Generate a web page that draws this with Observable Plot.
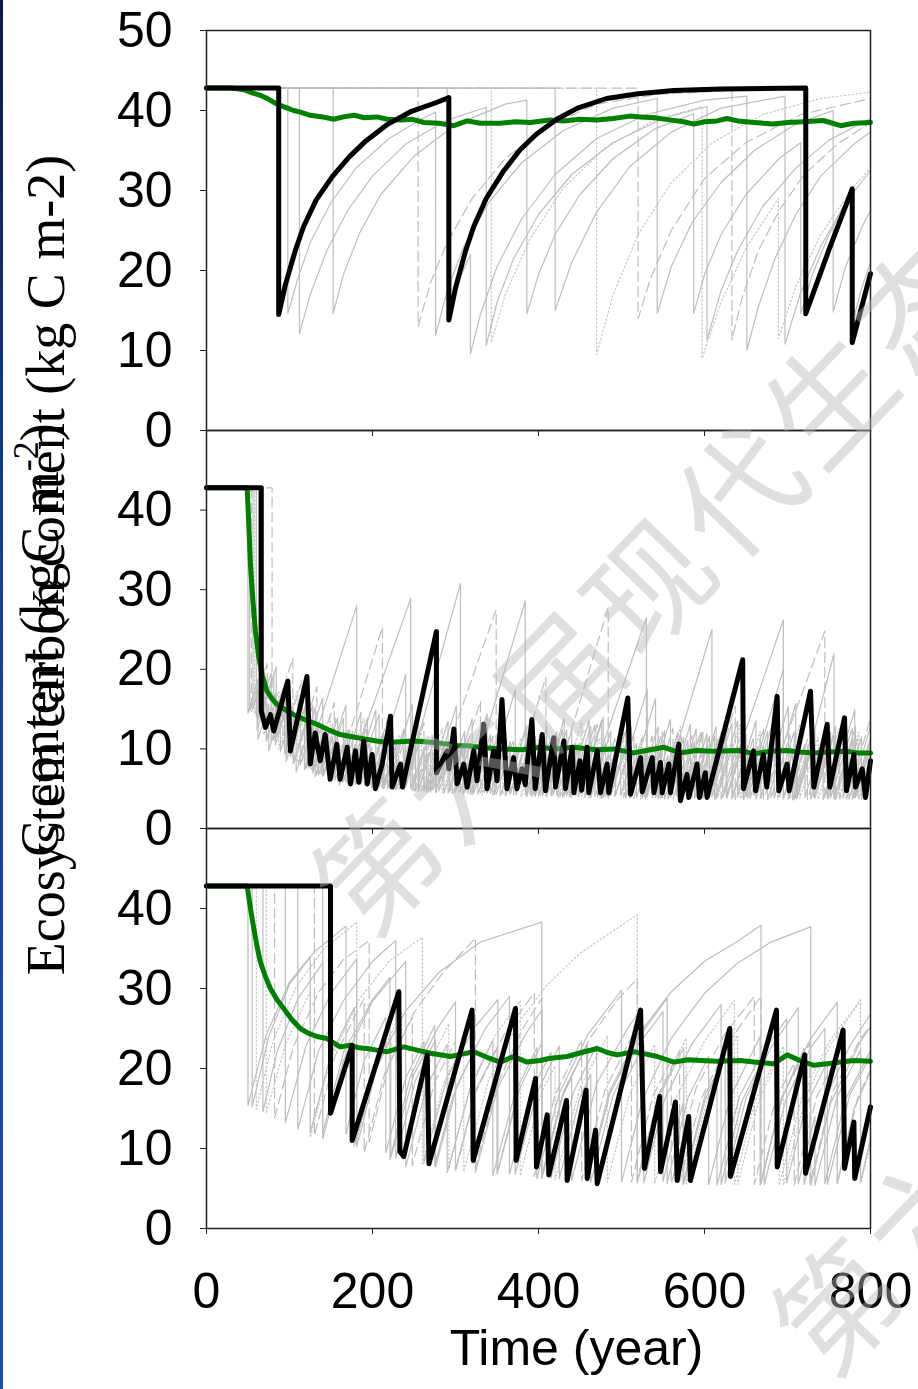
<!DOCTYPE html>
<html>
<head>
<meta charset="utf-8">
<script src="https://cdn.jsdelivr.net/npm/d3@7"></script>
<script src="https://cdn.jsdelivr.net/npm/@observablehq/plot@0.6"></script>
<style>
  html, body { margin: 0; padding: 0; background: #fff; }
  #chart { position: relative; width: 918px; height: 1389px; overflow: hidden; background: #fff; }
  #chart > svg { position: absolute; left: 0; }
  #edge { position: absolute; left: 0; top: 0; width: 3px; height: 1389px;
          background: linear-gradient(#0a1a44, #12409c 40%, #1a4fb2); }
</style>
</head>
<body>
<div id="chart"><div id="edge"></div></div>
<script>
// ---- axis ticks ----
const xTicks = [0, 200, 400, 600, 800];
const yTicksTop = [0, 10, 20, 30, 40, 50];
const yTicksLower = [0, 10, 20, 30, 40];

const xLabel = "Time (year)";
const yLabelA = "Ecosystem carbon content (kg C m-2)";
const yLabelB = "C content (kgC m";
const watermark = "第六届现代生态学讲座";

// ---- panel 1 (flat pairs: year, kg C m-2) ----
const black1 = [0,42.8, 87,42.8, 87,14.5, 95,18.2, 107,22.5, 117,25.5, 132,28.8, 152,31.8, 172,34.2,
  192,36.2, 217,38.2, 247,39.9, 277,41.0, 292,41.6, 292,13.8, 300,17.8, 312,22.4, 322,25.5, 337,29.0,
  357,32.3, 377,35.0, 397,37.0, 422,38.9, 447,40.3, 482,41.5, 520,42.1, 563,42.5, 620,42.7, 722,42.8,
  722,14.6, 750,22.6, 778,30.2, 778,11.0, 800,19.6];
const green1 = [0,42.8, 30,42.8, 45,42.6, 55,42.2, 65,41.9, 75,41.4, 85,40.8, 95,40.4, 105,40.0, 113,39.8,
  125,39.4, 140,39.2, 153,38.9, 165,39.2, 178,39.4, 190,39.1, 205,39.2, 218,38.9, 234,38.8, 248,38.9,
  262,38.5, 280,38.4, 298,38.1, 314,38.7, 330,38.4, 354,38.4, 372,38.6, 390,38.5, 414,38.8, 430,38.7,
  450,38.9, 470,38.8, 490,39.0, 510,39.3, 523,39.2, 540,39.1, 560,38.8, 575,38.6, 587,38.3, 600,38.6,
  615,38.7, 627,39.0, 640,38.7, 660,38.5, 683,38.3, 700,38.5, 720,38.6, 743,38.75, 764,38.1, 780,38.4, 800,38.5];
const runA1 = [0,42.8, 98,42.8, 98,14.6, 110,19, 125,23.5, 150,28.5, 180,32.8, 220,36.5, 260,39, 276,39.8,
  276,11.9, 290,17.5, 310,23, 340,28.5, 380,33.5, 430,37.5, 490,40.3, 543,41.5, 543,14.6, 560,20.5, 585,26,
  620,31, 660,35, 710,38.3, 755,40, 755,14.8, 770,20.5, 790,25.5, 800,27.5];
const runA2 = [0,42.8, 112,42.8, 112,12.1, 125,17, 145,22.5, 170,27.5, 200,31.8, 240,35.8, 290,38.8, 337,40.4,
  337,10.6, 350,16, 370,21.5, 400,27, 440,32, 490,36, 550,39, 603,40.5, 603,11.3, 620,17.5, 640,22.5,
  670,28, 710,32.8, 750,36.3, 800,39];
const runA3 = [0,42.8, 152.6,42.8, 152.6,14.6, 165,19.5, 185,24.8, 210,29.5, 250,34.3, 300,38.2, 360,40.8,
  386,41.3, 386,14.6, 400,19.5, 420,24.5, 450,29.5, 490,34, 540,37.7, 587,39.6, 587,14.6, 600,19.5, 620,24.5,
  650,29.5, 690,34, 716,36, 716,14.6, 730,19.5, 750,24.5, 776,29.3, 776,12.5, 790,18, 800,21];
const runA4 = [0,42.8, 255,42.8, 255,13, 270,18.5, 290,23.5, 320,29, 360,34, 410,38, 470,40.8, 543,42, 633,42.5,
  633,11.3, 645,16.5, 665,22.5, 690,27.5, 720,32, 760,35.8, 800,38.5];
const runA5 = [0,42.8, 290,42.8, 290,14, 305,19, 318,22, 318,9.6, 330,14.5, 350,20.5, 380,26.5, 420,32, 470,36.5,
  530,39.5, 600,41.3, 651,41.8, 651,10, 665,15.5, 685,21.5, 710,27, 740,31.8, 780,35.8, 800,37.3];
const runA6 = [0,42.8, 343,42.8, 343,11, 360,17, 390,24, 430,30.3, 480,35.3, 540,38.8, 597,40.5, 597,9, 620,16,
  650,22.8, 689,29, 689,11.5, 710,18, 740,24.5, 780,30.5, 800,32.8];
const runA7 = [0,42.8, 420,42.8, 420,15, 440,21, 470,27.3, 510,33, 560,37.3, 620,40.3, 697,41.8, 697,10.8,
  715,17, 740,23, 770,28.5, 800,32.5];
const runA8 = [0,42.8, 470,42.8, 470,9.5, 490,17, 520,24.5, 560,31, 610,36, 670,39.5, 740,41.5, 800,42.3];
const runA9 = [0,42.8, 520,42.8, 520,14, 535,19, 560,25, 600,31.5, 650,36, 716,39.5, 800,41.5];

// ---- panel 2 ----
const black2 = [0,42.8, 66,42.8, 66,14.75, 71,12.7, 77,14.3, 81,12.25, 98,18.5, 101,9.75, 121,19.1, 125,8.1,
  131,12, 137,8.5, 143,11.8, 149,6.2, 157,10.6, 161,6.2, 169.5,10.2, 173.5,5.6, 179.5,9.75, 183.5,5.8,
  189.5,11, 193.6,5.6, 199.6,9.3, 203.6,5, 211.7,8.1, 221.7,14.1, 223.7,5.2, 233.7,8.1, 236,5.2, 277,24.75,
  277,7.0, 290,9.75, 292,7.5, 298,12.5, 302,5.6, 310,8.1, 314,5.2, 322,9.75, 326,6, 334,13.1, 338,5,
  346,9.75, 350,6, 356,16.2, 362,5, 370,8.9, 374,5, 380,7.5, 384,5.5, 392,13.7, 396,5, 404.5,11.8,
  408.4,4.75, 418.4,11.4, 420.5,5.2, 430.5,11, 432.5,5, 440.6,10.2, 442.6,4.5, 450,8.5, 452,4.8,
  458.6,10.2, 460.6,4.5, 470.7,9.75, 474.7,4.5, 482.7,8.1, 484.7,4.5, 507.6,16.4, 510.8,4.3, 523,8.9,
  525,4.6, 537,8.9, 539,4.5, 547,8.3, 549,4.5, 557,8.1, 559,4.5, 569,10.6, 571,3.5, 579,6.8, 581,3.9,
  591,8.1, 594,3.9, 601,7.0, 603,3.9, 646,21.2, 647,5.0, 659,9.75, 661.6,4.75, 671,9.3, 675,5.2,
  687.5,16.6, 689.5,4.75, 699.6,8.1, 702,4.75, 727.7,17.25, 731.7,5.2, 747.8,13.1, 751,5.2, 768.7,13.9,
  771,4.75, 780,9.3, 782,5.2, 790,7.5, 794,3.9, 800,8.5];
const green2 = [0,42.8, 49,42.8, 51,38.0, 53,33.1, 56,28.5, 59,24.75, 63,21.5, 67,19.3, 73,17.25, 79,16.3,
  85,15.6, 95,14.9, 105,14.3, 118,13.7, 133,13.1, 147,12.4, 161,11.8, 177,11.5, 193.6,11.2, 205,11.0,
  217.7,10.8, 233,10.9, 250,11.0, 262,10.9, 274,10.8, 290,10.6, 300,10.4, 314,10.4, 330,10.2, 354,10.0,
  380,9.9, 402,10.2, 420,10.0, 442.6,10.2, 470,9.9, 490,10.0, 515,9.5, 530,9.8, 551,10.2, 571,9.5,
  590,9.8, 610,9.7, 643,9.8, 659,9.4, 680,9.7, 699.6,9.8, 715,9.6, 731.7,9.5, 750,9.6, 770,9.7, 785,9.5, 800,9.5];
const runB1 = [0,42.8, 50,42.8, 50,14.5, 62,18.8, 62,11.2, 75,15.6, 75,9.8, 96,17.1, 96,8.4, 108,12.6, 108,7.1,
  131,15.2, 131,6.5, 147,12.1, 147,5.9, 160,10.4, 160,5.4, 186,14.6, 186,5.6, 199,10.2, 199,5.0, 240,19.3,
  240,5.2, 256,10.8, 256,4.9, 270,9.8, 270,4.6, 301,15.4, 301,4.8, 318,10.7, 318,4.3, 335,10.2, 335,4.5,
  372,17.4, 372,4.6, 390,10.9, 390,4.2, 404,9.1, 404,4.4, 431,13.8, 431,4.1, 450,10.7, 450,4.3, 478,14.0,
  478,3.9, 493,9.2, 493,4.2, 531,17.5, 531,4.0, 547,9.6, 547,3.8, 566,10.5, 566,4.1, 590,12.5, 590,3.9,
  612,11.6, 612,3.7, 640,13.5, 640,4.0, 655,9.3, 655,3.8, 690,16.1, 690,3.9, 706,9.5, 706,3.6, 731,12.4,
  731,4.0, 749,10.3, 749,3.7, 781,14.9, 781,3.9, 800,10.5];
const runB2 = [0,42.8, 56,42.8, 56,15.1, 70,20.0, 70,12.6, 83,17.0, 83,10.5, 101,16.6, 101,9.0, 123,16.8, 123,7.6,
  138,12.7, 138,6.8, 152,11.5, 152,6.1, 170,12.3, 170,5.7, 194,13.9, 194,5.3, 213,11.9, 213,5.0, 229,10.5,
  229,4.9, 255,13.8, 255,4.7, 276,11.9, 276,4.5, 293,10.4, 293,4.6, 320,13.8, 320,4.3, 342,11.8, 342,4.4,
  361,10.9, 361,4.2, 386,12.9, 386,4.0, 405,10.8, 405,4.1, 429,12.4, 429,3.9, 448,10.6, 448,4.0, 476,13.6,
  476,3.8, 499,12.0, 499,4.1, 518,10.7, 518,3.9, 544,12.8, 544,3.7, 568,12.1, 568,3.9, 588,10.9, 588,3.8,
  614,12.8, 614,3.7, 634,10.6, 634,3.9, 662,13.5, 662,3.7, 684,11.4, 684,3.8, 708,12.2, 708,3.6, 733,12.4,
  733,3.8, 756,11.7, 756,3.7, 782,12.8, 782,3.9, 800,10.0];
const runB3 = [0,42.8, 52,42.8, 52,14.8, 61,17.6, 61,12.4, 72,15.9, 72,11.0, 89,16.3, 89,9.7, 105,14.8, 105,8.2,
  128,15.5, 128,7.0, 141,11.1, 141,6.6, 165,13.8, 165,5.9, 179,10.5, 179,5.5, 208,14.3, 208,5.2, 225,10.7,
  225,4.9, 252,13.0, 252,4.7, 267,9.5, 267,4.6, 286,10.4, 286,4.4, 311,12.2, 311,4.5, 327,9.4, 327,4.3,
  354,12.6, 354,4.1, 373,10.3, 373,4.2, 396,11.6, 396,4.0, 422,12.2, 422,4.1, 439,9.7, 439,3.9, 468,13.0,
  468,4.0, 484,9.2, 484,3.8, 512,12.8, 512,4.0, 529,9.6, 529,3.7, 559,13.7, 559,3.9, 580,11.1, 580,3.8,
  603,11.9, 603,3.7, 626,11.6, 626,3.9, 647,11.1, 647,3.6, 668,11.0, 668,3.8, 701,15.3, 701,3.7, 721,10.6,
  721,3.9, 743,11.6, 743,3.6, 767,12.1, 767,3.8, 789,11.5, 789,3.7, 800,7.6];
const runB4 = [0,42.8, 79,42.8, 79,13.2, 92,17.6, 92,10.6, 115,18.6, 115,8.5, 129,13.2, 129,7.4, 154,15.8, 154,6.5,
  172,12.4, 172,5.9, 193,12.7, 193,5.4, 220,14.3, 220,5.1, 237,10.7, 237,4.9, 262,13.3, 262,4.7, 277,9.8,
  277,4.6, 296,10.9, 296,4.4, 330,16.0, 330,4.5, 347,10.0, 347,4.3, 365,10.4, 365,4.2, 409,19.0, 409,4.1,
  426,10.0, 426,4.0, 445,10.6, 445,4.1, 471,13.1, 471,3.9, 492,11.3, 492,4.0, 515,11.9, 515,3.8, 537,11.6,
  537,3.9, 562,12.6, 562,3.7, 585,11.7, 585,3.9, 604,10.5, 604,3.8, 637,15.4, 637,3.6, 659,11.5, 659,3.9,
  680,11.1, 680,3.7, 703,11.8, 703,3.8, 724,11.2, 724,3.6, 748,12.0, 748,3.8, 771,11.7, 771,3.7, 800,13.8];
const runB5 = [0,42.8, 58,42.8, 58,14.4, 69,17.0, 69,11.8, 87,17.2, 87,10.0, 110,17.4, 110,8.3, 126,12.9, 126,7.3,
  149,14.3, 149,6.2, 164,10.6, 164,5.8, 190,13.9, 190,5.4, 211,11.7, 211,5.1, 232,11.8, 232,4.8, 259,13.0,
  259,4.7, 284,12.6, 284,4.5, 304,10.7, 304,4.4, 332,13.2, 332,4.2, 357,12.3, 357,4.3, 379,11.4, 379,4.0,
  402,11.9, 402,4.1, 424,11.5, 424,3.9, 452,13.4, 452,4.0, 474,11.4, 474,3.8, 502,13.2, 502,3.9, 523,10.9,
  523,3.7, 545,11.6, 545,3.9, 571,12.8, 571,3.8, 594,11.8, 594,3.7, 616,11.3, 616,3.9, 643,13.2, 643,3.7,
  667,12.2, 667,3.8, 688,11.1, 688,3.6, 715,13.1, 715,3.8, 737,11.5, 737,3.7, 762,12.5, 762,3.9, 786,12.1,
  786,3.7, 800,8.6];
const runB6 = [0,42.8, 63,42.8, 63,13.8, 81,19.4, 81,11.1, 94,15.3, 94,9.4, 120,18.3, 120,7.5, 135,12.7, 135,6.7,
  158,13.9, 158,5.9, 176,12.2, 176,5.6, 204,14.9, 204,5.2, 218,9.9, 218,5.0, 248,15.6, 248,4.8, 265,10.6,
  265,4.6, 291,13.5, 291,4.5, 309,10.6, 309,4.3, 338,14.4, 338,4.4, 360,11.9, 360,4.1, 385,12.8, 385,4.2,
  410,12.7, 410,4.0, 434,12.4, 434,4.1, 461,13.6, 461,3.9, 481,10.8, 481,4.0, 505,12.3, 505,3.8, 541,16.3,
  541,3.9, 556,9.2, 556,3.7, 583,13.1, 583,3.8, 606,11.6, 606,3.9, 633,13.2, 633,3.7, 652,10.4, 652,3.8,
  676,12.2, 676,3.6, 710,15.7, 710,3.8, 728,10.0, 728,3.7, 752,12.1, 752,3.9, 778,12.6, 778,3.7, 800,11.4];
const runB7 = [0,42.8, 60,42.8, 60,14.0, 78,19.5, 78,11.0, 96,16.2, 96,9.2, 118,15.0, 118,7.4, 181,28.0, 181,6.0,
  197,10.8, 197,5.5, 214,10.6, 214,5.1, 238,12.5, 238,4.9, 306,30.8, 306,4.6, 322,9.5, 322,4.4, 345,11.6,
  345,4.2, 366,10.9, 366,4.3, 392,12.9, 392,4.0, 415,11.3, 415,4.2, 440,12.3, 440,4.1, 456,9.3, 456,3.9,
  530,26.5, 530,4.2, 548,9.8, 548,3.9, 609,25.0, 609,4.0, 627,10.4, 627,3.8, 650,11.9, 650,4.0, 695,20.0,
  695,3.7, 712,9.7, 712,3.9, 756,22.0, 756,3.8, 774,10.1, 774,3.7, 800,12.8];
const runB8 = [0,42.8, 66,42.8, 66,14.2, 84,20.3, 84,11.5, 99,16.0, 99,9.6, 113,13.9, 113,8.0, 140,16.4, 140,6.6,
  168,15.5, 168,5.8, 246,28.9, 246,5.0, 262,10.1, 262,4.8, 280,10.3, 280,4.7, 299,10.9, 299,4.5, 315,9.7,
  315,4.4, 384,28.6, 384,4.3, 400,9.6, 400,4.1, 418,10.1, 418,4.3, 437,10.5, 437,4.0, 463,12.8, 463,3.9,
  487,12.2, 487,4.1, 510,11.6, 510,3.8, 528,10.1, 528,3.9, 552,12.3, 552,3.7, 575,11.5, 575,4.0, 598,12.1,
  598,3.8, 622,12.0, 622,3.9, 695,26.2, 695,3.8, 711,9.4, 711,3.7, 732,10.9, 732,3.9, 758,12.8, 758,3.6,
  779,11.2, 779,3.8, 800,11.1];
const runB9 = [0,42.8, 54,42.8, 54,14.6, 73,20.7, 73,11.3, 104,21.4, 104,8.2, 133,17.8, 133,6.8, 155,13.9, 155,6.1,
  212,25.3, 212,5.1, 228,10.4, 228,4.9, 250,11.8, 250,4.7, 272,11.7, 272,4.6, 349,27.5, 349,4.3, 370,11.2,
  370,4.2, 395,12.6, 395,4.0, 416,11.2, 416,4.1, 484,27.8, 484,3.9, 503,10.2, 503,4.0, 525,11.5, 525,3.8,
  549,12.1, 549,3.9, 572,11.9, 572,3.7, 596,12.3, 596,3.8, 620,12.1, 620,3.7, 646,12.7, 646,3.9, 671,12.6,
  671,3.7, 745,24.8, 745,3.8, 763,9.9, 763,3.7, 785,11.3, 785,3.9, 800,9.1];

// ---- panel 3 ----
const black3 = [0,42.8, 149.4,42.8, 149.4,14.4, 175.5,22.9, 175.5,11.0, 231.7,29.6, 233,9.6, 237.7,9.0, 266,21.7,
  268,8.1, 320,27.3, 321.3,8.5, 372.3,27.5, 373,8.5, 396.4,18.75, 397.6,7.7, 410.5,14.2, 412.4,6.7, 433.7,16.0,
  434.5,6.0, 457.4,17.3, 458.7,6.25, 468.7,12.3, 470.7,5.6, 523,27.3, 527.7,7.5, 546,16.5, 547,7.1, 565,15.8,
  567,6.0, 581,14.0, 583,6.0, 630.5,25.0, 631.3,6.5, 686.7,27.3, 687.6,7.7, 720.8,21.7, 721.7,6.9, 767,24.8,
  768.7,7.5, 780,13.3, 781,6.25, 800,15.2];
const green3 = [0,42.8, 49,42.8, 53,40, 57,37.5, 61,35.2, 65,33.3, 71,31.5, 77,30, 85,28.6, 93,27.5, 103,26.1,
  113,25, 123,24.4, 133,24, 145,23.75, 153,23.2, 161,22.7, 173.5,22.9, 183,22.6, 193.6,22.5, 205,22.3,
  217.7,22.1, 227,22.4, 237.7,22.7, 253.8,22.3, 270,21.9, 294,21.5, 308,21.8, 322,22.1, 338,21.4, 354,20.8,
  370,21.5, 386,20.8, 402,21.0, 412.4,21.25, 434.5,21.5, 452,22.0, 470.7,22.5, 483,22.0, 494.8,21.7, 515,22.1,
  530,21.8, 543,21.5, 563,20.8, 580,21.1, 595,21.0, 615,20.9, 643,21.0, 660,20.8, 683.5,20.6, 699.6,21.7,
  715,21.0, 731.7,20.4, 748,20.6, 764,20.8, 780,21.0, 800,20.9];
const runC1 = [0,42.8, 55,42.8, 55,15.2, 75,24.0, 100,30.5, 130,34.6, 168,37.8, 168,11.8, 190,21.0, 216,26.4,
  216,9.5, 240,18.8, 262,23.4, 262,8.2, 290,18.9, 322,25.0, 351,28.6, 351,7.2, 372,15.6, 372,6.8, 398,16.9,
  425,22.8, 425,6.2, 450,16.4, 463,19.3, 463,5.8, 490,16.7, 519,22.8, 550,27.1, 550,5.9, 574,15.6, 574,5.5,
  601,16.8, 625,21.4, 625,5.7, 650,16.3, 680,22.6, 713,27.6, 713,5.6, 733,14.0, 733,5.4, 760,16.5, 788,22.3,
  788,5.8, 800,11.2];
const runC2 = [0,42.8, 68,42.8, 68,14.6, 85,22.1, 110,28.7, 140,33.2, 140,11.9, 165,22.0, 200,28.6, 221,31.4,
  221,8.6, 245,18.8, 275,25.4, 275,7.8, 297,16.6, 324,22.6, 324,7.0, 351,17.6, 385,24.4, 404,27.3, 404,6.4,
  428,16.3, 440,18.9, 440,6.0, 470,18.1, 505,24.6, 519,26.8, 519,5.7, 545,16.4, 575,22.6, 575,5.6, 601,16.2,
  615,19.2, 615,5.4, 642,16.5, 670,22.0, 699,26.2, 699,5.7, 722,15.3, 748,20.8, 748,5.5, 775,16.7, 800,21.6];
const runC3 = [0,42.8, 82,42.8, 82,13.8, 105,22.8, 135,29.5, 165,33.6, 196,36.0, 196,10.8, 220,20.6, 250,27.0,
  285,32.0, 324,36.3, 324,7.6, 350,17.9, 380,24.8, 404,28.8, 404,6.7, 430,17.0, 462,23.8, 495,28.6, 519,31.2,
  519,6.1, 545,16.8, 570,22.2, 570,5.8, 595,16.0, 630,23.4, 668,29.0, 668,5.6, 693,16.4, 727,23.2, 727,5.7,
  755,17.2, 788,23.7, 800,25.4];
const runC4 = [0,42.8, 95,42.8, 95,13.2, 120,22.9, 150,29.4, 181,33.7, 181,10.2, 205,20.0, 222,23.8, 222,8.9,
  250,19.3, 280,25.3, 300,28.3, 300,7.3, 325,17.4, 350,22.6, 350,6.8, 377,17.4, 404,23.2, 404,6.2, 430,16.9,
  459,23.1, 459,5.9, 486,16.8, 519,23.6, 555,28.8, 555,5.6, 580,16.3, 605,21.5, 605,5.5, 631,16.4, 667,24.0,
  667,5.4, 694,16.5, 727,23.6, 760,28.3, 760,5.6, 780,14.9, 800,19.6];
const runC5 = [0,42.8, 60,42.8, 60,14.9, 80,23.4, 108,30.2, 140,34.8, 181,38.3, 181,11.0, 205,20.6, 235,27.1,
  235,8.7, 260,18.9, 292,25.6, 292,7.5, 318,17.9, 347,24.0, 378,28.5, 378,6.6, 403,16.9, 420,20.3, 420,6.1,
  450,17.6, 483,24.1, 483,5.8, 510,16.9, 540,23.0, 540,5.6, 566,16.4, 600,23.4, 636,28.5, 636,5.5, 660,15.7,
  690,22.1, 690,5.4, 718,16.6, 750,23.3, 788,28.6, 788,5.7, 800,11.0];
const runC6 = [0,42.8, 110,42.8, 110,12.4, 135,22.2, 165,28.5, 200,33.4, 228,36.0, 228,8.8, 252,18.6, 276,23.6,
  276,7.7, 302,17.9, 336,25.0, 365,29.0, 365,6.8, 390,16.8, 415,22.0, 415,6.3, 442,17.0, 470,22.9, 470,5.9,
  497,16.8, 527,23.0, 527,5.7, 552,16.2, 585,23.1, 620,28.0, 620,5.5, 645,15.9, 672,21.5, 672,5.5, 698,16.1,
  728,22.6, 745,25.0, 745,5.6, 770,16.2, 800,22.2];
const runC7 = [0,42.8, 130,42.8, 130,11.6, 155,21.6, 190,28.8, 190,9.5, 215,19.5, 248,26.4, 248,7.9, 275,18.3,
  300,23.4, 300,7.2, 325,17.2, 360,24.6, 395,29.4, 395,6.5, 420,16.7, 452,23.6, 452,6.0, 480,17.3, 512,23.9,
  512,5.8, 538,16.6, 560,21.0, 560,5.6, 590,17.6, 625,24.4, 660,29.0, 660,5.5, 685,15.9, 708,20.7, 708,5.4,
  735,16.4, 760,21.6, 760,5.6, 785,16.5, 800,19.8];
const runC8 = [0,42.8, 50,42.8, 50,15.4, 72,24.2, 100,30.8, 125,34.0, 125,12.0, 150,21.8, 178,27.6, 178,10.3,
  205,20.4, 240,27.2, 280,32.0, 330,35.8, 404,38.3, 404,6.6, 430,17.1, 458,22.8, 458,6.0, 485,17.0, 520,24.2,
  560,29.6, 600,33.4, 640,35.9, 668,37.9, 668,5.6, 692,16.0, 720,22.5, 720,5.5, 746,16.3, 775,22.8, 800,26.8];
const runC9 = [0,42.8, 72,42.8, 72,14.4, 95,23.0, 125,29.6, 125,11.4, 150,21.3, 185,28.8, 220,33.4, 260,36.4,
  260,7.9, 285,17.9, 310,23.3, 310,7.1, 340,18.6, 375,25.6, 410,30.4, 450,34.4, 490,37.2, 519,39.2, 519,5.9,
  545,16.7, 578,23.8, 578,5.6, 606,17.3, 640,24.2, 640,5.5, 665,15.8, 695,22.8, 695,5.4, 722,16.5, 752,23.0,
  788,28.5, 788,5.7, 800,10.5];
const runC10 = [0,42.8, 140,42.8, 140,11.2, 165,21.0, 200,28.4, 240,33.4, 240,7.7, 265,17.6, 290,23.0, 290,7.0,
  318,17.6, 345,23.5, 345,6.6, 372,17.0, 398,22.6, 398,6.2, 425,16.9, 460,24.3, 500,29.8, 500,5.8, 525,16.0,
  560,23.8, 600,29.4, 640,33.2, 680,35.8, 728,37.7, 728,5.4, 752,15.7, 788,23.4, 800,25.2];

// ---- helpers ----
function rows(flat, k = 0) {
  const out = [];
  for (let i = 0; i < flat.length; i += 2) out.push({x: flat[i], y: flat[i + 1], k});
  return out;
}
function group(list) {
  return list.flatMap((flat, k) => rows(flat, k));
}

const panels = [
  {top: 0, height: 430, marginTop: 30, marginBottom: 0, yTicks: yTicksTop, xText: false,
   black: black1, green: green1,
   solid: [runA1, runA2, runA3, runA5, runA7], dashed: [runA4, runA9], dotted: [runA6, runA8]},
  {top: 430, height: 398, marginTop: 0, marginBottom: 0, yTicks: yTicksLower, xText: false,
   black: black2, green: green2,
   solid: [runB1, runB2, runB3, runB6, runB7, runB8], dashed: [runB4, runB9], dotted: [runB5]},
  {top: 828, height: 561, marginTop: 0, marginBottom: 161, yTicks: yTicksLower, xText: true,
   black: black3, green: green3,
   solid: [runC1, runC2, runC4, runC6, runC8, runC10], dashed: [runC3, runC7], dotted: [runC5, runC9]}
];

const chart = document.getElementById("chart");

for (const p of panels) {
  const marks = [
    Plot.line(group(p.dotted), {x: "x", y: "y", z: "k", stroke: "#c6c6c6", strokeWidth: 1.2,
      strokeDasharray: "1.5,2.5"}),
    Plot.line(group(p.dashed), {x: "x", y: "y", z: "k", stroke: "#bebebe", strokeWidth: 1.2,
      strokeDasharray: "10,5"}),
    Plot.line(group(p.solid), {x: "x", y: "y", z: "k", stroke: "#bebebe", strokeWidth: 1.2}),
    Plot.line(rows(p.green), {x: "x", y: "y", stroke: "#008000", strokeWidth: 5}),
    Plot.line(rows(p.black), {x: "x", y: "y", stroke: "#000000", strokeWidth: 5}),
    Plot.frame({stroke: "#222222", strokeWidth: 1.5}),
    Plot.axisY(p.yTicks, {tickSize: 6, tickPadding: 28, label: null, stroke: "#222222"}),
    Plot.axisX(xTicks, {tickSize: 6, tickPadding: 38, label: null, stroke: "#222222",
      tickFormat: p.xText ? (d) => String(d) : () => ""})
  ];
  if (p.xText) {
    marks.push(Plot.text([xLabel], {frameAnchor: "bottom", text: (d) => d, dx: 38, dy: 136,
      fontSize: 50, fill: "#000"}));
  }
  const svg = Plot.plot({
    width: 918,
    height: p.height,
    marginLeft: 206,
    marginRight: 48,
    marginTop: p.marginTop,
    marginBottom: p.marginBottom,
    x: {domain: [0, 800], axis: null},
    y: {domain: [0, 50], axis: null},
    style: {background: "transparent", overflow: "visible", fontFamily: "'Liberation Sans', Arial, sans-serif",
      fontSize: "50px", color: "#000"},
    marks
  });
  svg.style.top = p.top + "px";
  svg.style.overflow = "visible";
  chart.appendChild(svg);
}

// ---- overlay: y-axis titles and watermark ----
const over = d3.select(chart).append("svg")
  .attr("width", 918).attr("height", 1389)
  .style("top", "0px").style("pointer-events", "none");

over.append("text")
  .attr("transform", "translate(64,565) rotate(-90)")
  .attr("text-anchor", "middle")
  .attr("font-family", "'Liberation Serif', 'Times New Roman', serif")
  .attr("font-size", 54)
  .attr("fill", "#000")
  .text(yLabelA);

const tb = over.append("text")
  .attr("transform", "translate(58,640) rotate(-90)")
  .attr("text-anchor", "middle")
  .attr("font-family", "'Liberation Serif', 'Times New Roman', serif")
  .attr("font-size", 54)
  .attr("fill", "#000");
tb.append("tspan").text(yLabelB);
tb.append("tspan").attr("dy", -20).attr("font-size", 36).text("-2");
tb.append("tspan").attr("dy", 20).text(")");

const wm = over.append("g")
  .attr("font-family", "'Noto Sans CJK SC', sans-serif")
  .attr("font-size", 122)
  .attr("fill", "#b8b8b8")
  .attr("fill-opacity", 0.45)
  .attr("letter-spacing", 8);
wm.append("text")
  .attr("transform", "translate(330,905) rotate(-46)")
  .attr("dominant-baseline", "central")
  .text(watermark);
wm.append("text")
  .attr("transform", "translate(790,1345) rotate(-46)")
  .attr("dominant-baseline", "central")
  .text(watermark);
</script>
</body>
</html>
